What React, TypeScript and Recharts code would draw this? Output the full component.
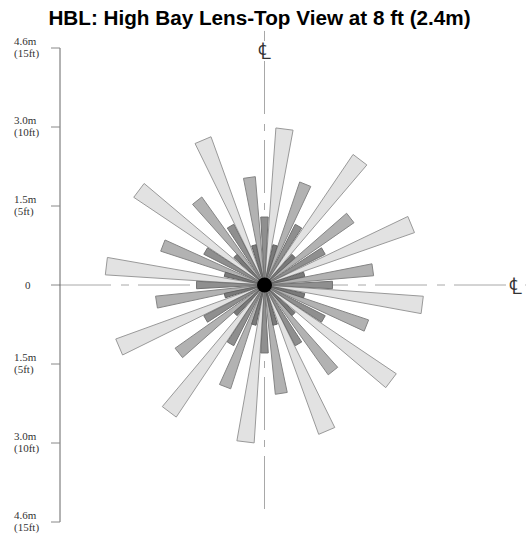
import { ReferenceDot, ReferenceLine, Scatter, ScatterChart, XAxis, YAxis } from "recharts";

// spoke bearings in degrees clockwise from north, lengths in feet
const lightAngles = [7.3, 37.3, 67.6, 97.2, 127.1, 156.9, 186.9, 216.9, 246.9, 276.8, 307, 337];
const lightLengths = [9.95, 9.97, 10.04, 10.06, 10.04, 10.04, 10, 10.04, 10, 10.08, 9.95, 9.96];
const mediumAngles = [22, 52, 82, 111.7, 141.5, 171.2, 201.2, 231.6, 261, 291.2, 321.4, 352];
const mediumLengths = [6.88, 6.89, 6.92, 6.94, 6.96, 6.94, 6.9, 6.92, 6.92, 6.9, 6.83, 6.87];
const darkAngles = [0, 30, 60, 90, 120, 150, 180, 210, 240, 270, 300, 330];
const darkLengths = [4.3, 4.3, 4.3, 4.3, 4.3, 4.3, 4.3, 4.3, 4.3, 4.3, 4.3, 4.3];
const darkestAngles = [15, 45, 75, 105, 135, 165, 195, 225, 255, 285, 315, 345];
const darkestLengths = [2.6, 2.6, 2.6, 2.6, 2.6, 2.6, 2.6, 2.6, 2.6, 2.6, 2.6, 2.6];

const feetTicks = [15, 10, 5, 0, -5, -10, -15];
const metreLabels = ["4.6m", "3.0m", "1.5m", "0", "1.5m", "3.0m", "4.6m"];
const feetLabels = ["(15ft)", "(10ft)", "(5ft)", "", "(5ft)", "(10ft)", "(15ft)"];

const SPREAD = 3.15;
const SERIF = "'Liberation Serif', serif";
const LINE_GREY = "#a8a8a8";

function tip(angle: number, length: number) {
  const rad = (angle * Math.PI) / 180;
  const reach = length / Math.cos((SPREAD * Math.PI) / 180);
  return { x: reach * Math.sin(rad), y: reach * Math.cos(rad) };
}

function wedge(angle: number, length: number) {
  const origin = { x: 0, y: 0 };
  return [origin, tip(angle - SPREAD, length), tip(angle + SPREAD, length), origin];
}

const rings = [
  { angles: lightAngles, lengths: lightLengths, fill: "#e2e2e2", stroke: "#999" },
  { angles: mediumAngles, lengths: mediumLengths, fill: "#b2b2b2", stroke: "#858585" },
  { angles: darkAngles, lengths: darkLengths, fill: "#8f8f8f", stroke: "#727272" },
  { angles: darkestAngles, lengths: darkestLengths, fill: "#7a7a7a", stroke: "#626262" },
];

function DistanceTick({ y, index }: any) {
  const feet = feetLabels[index];
  return (
    <g fontFamily={SERIF} fontSize={11} fill="#333">
      {feet ? (
        <>
          <text x={14} y={y - 3}>{metreLabels[index]}</text>
          <text x={14} y={y + 9}>{feet}</text>
        </>
      ) : (
        <text x={25} y={y + 4}>{metreLabels[index]}</text>
      )}
    </g>
  );
}

function CentreMark({ cx, cy }: any) {
  return (
    <text x={cx} y={cy} fontFamily="'DejaVu Serif', serif" fontSize={23} fill="#333" textAnchor="middle">
      ℄
    </text>
  );
}

export default function App() {
  return (
    <div style={{ position: "absolute", left: 0, top: 0, width: 526, height: 535 }}>
      <div
        style={{
          position: "absolute",
          left: 0,
          top: 6,
          width: 519,
          textAlign: "center",
          fontFamily: "'Liberation Sans', Arial, sans-serif",
          fontWeight: "bold",
          fontSize: 20.7,
          lineHeight: "24px",
          color: "#000",
        }}
      >
        HBL: High Bay Lens-Top View at 8 ft (2.4m)
      </div>
      <ScatterChart width={526} height={535} margin={{ top: 48, right: 0, bottom: 13, left: 0 }}>
        <XAxis type="number" dataKey="x" hide domain={[-12.943, 16.55]} allowDataOverflow />
        <YAxis
          type="number"
          dataKey="y"
          width={60}
          domain={[-15, 15]}
          ticks={feetTicks}
          interval={0}
          tickSize={9}
          tick={<DistanceTick />}
          axisLine={{ stroke: "#666" }}
          tickLine={{ stroke: "#888" }}
        />
        <ReferenceLine
          segment={[{ x: -13.006, y: 0 }, { x: 15.35, y: 0 }]}
          stroke={LINE_GREY}
          strokeDasharray="52 10 8 9"
          ifOverflow="visible"
        />
        <ReferenceLine
          segment={[{ x: 16.5, y: 0 }, { x: 16.55, y: 0 }]}
          stroke={LINE_GREY}
          ifOverflow="visible"
        />
        <ReferenceLine
          segment={[{ x: 0, y: 14.177 }, { x: 0, y: -14.177 }]}
          stroke={LINE_GREY}
          strokeDasharray="53 10 7 9"
          ifOverflow="visible"
        />
        <ReferenceLine
          segment={[{ x: 0, y: 16.08 }, { x: 0, y: 15.44 }]}
          stroke={LINE_GREY}
          ifOverflow="visible"
        />
        {rings.map((ring, r) =>
          ring.angles.map((angle, i) => (
            <Scatter
              key={`${r}-${i}`}
              data={wedge(angle, ring.lengths[i])}
              line={{ stroke: ring.stroke, fill: ring.fill, strokeWidth: 1 }}
              lineJointType="linear"
              shape={() => null}
              isAnimationActive={false}
            />
          ))
        )}
        <ReferenceDot x={0} y={0} r={7.5} fill="#000" stroke="none" />
        <ReferenceDot x={0} y={14.3} r={0} ifOverflow="visible" shape={CentreMark} />
        <ReferenceDot x={15.9} y={-0.55} r={0} ifOverflow="visible" shape={CentreMark} />
      </ScatterChart>
    </div>
  );
}
